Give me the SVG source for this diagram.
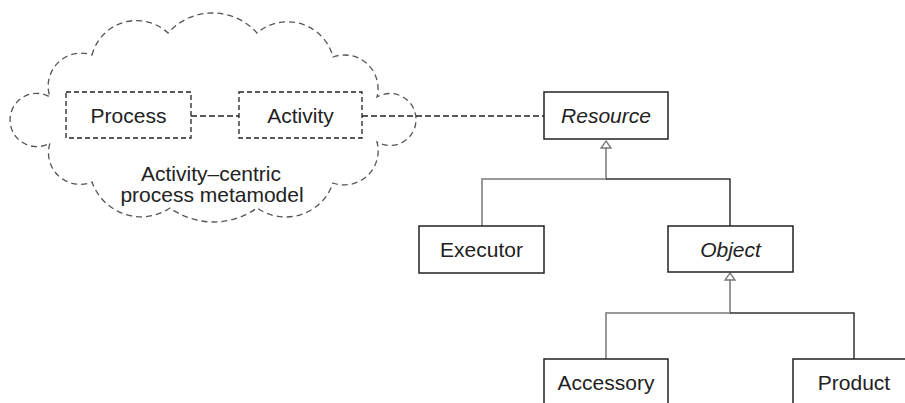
<svg xmlns="http://www.w3.org/2000/svg" width="905" height="403" viewBox="0 0 905 403">
<style>
.box{fill:#fff;stroke:#222;stroke-width:1.5}
.dbox{fill:#fff;stroke:#222;stroke-width:1.3;stroke-dasharray:5 3}
.t{font-family:"Liberation Sans",Arial,sans-serif;font-size:21px;fill:#222;text-anchor:middle}
.i{font-style:italic}
.dash{stroke:#222;stroke-width:1.3;stroke-dasharray:6 3}
.g{stroke:#999;stroke-width:2;fill:none}
.k{stroke:#333;stroke-width:1.5;fill:none}
.tri{fill:#fff;stroke:#777;stroke-width:1.3}
</style>
<g id="cloud">
<path d="M92,55 A46,46 0 0 1 168,33 A59.5,59.5 0 0 1 257,33 A47,47 0 0 1 333,57 A33.6,33.6 0 0 1 377,97 A26,26 0 1 1 377,142 A34,34 0 0 1 333,183 A50,50 0 0 1 257,208 A74.6,74.6 0 0 1 170,208 A52,52 0 0 1 92,182 A31.6,31.6 0 0 1 50,143 A26.6,26.6 0 1 1 50,97 A33,33 0 0 1 92,55 Z" fill="#fff" stroke="#555" stroke-width="1.3" stroke-dasharray="6 4"/>
<text class="t" x="211" y="181">Activity–centric</text>
<text class="t" x="212" y="202">process metamodel</text>
</g>
<g id="connectors">
<line class="dash" x1="191" y1="116" x2="239" y2="116"/>
<line class="dash" x1="362" y1="116" x2="544" y2="116"/>
<path class="g" d="M606,148 V179 H482 V226"/>
<path class="k" d="M606,179 H730 V226"/>
<path class="tri" d="M606,141 L611,148 L601,148 Z"/>
<path class="g" d="M730,280 V313 H606 V359"/>
<path class="k" d="M730,313 H854 V359"/>
<path class="tri" d="M730,273 L735,280 L725,280 Z"/>
</g>
<g id="process">
<rect class="dbox" x="66" y="92" width="125" height="46"/>
<text class="t" x="128.5" y="123">Process</text>
</g>
<g id="activity">
<rect class="dbox" x="239" y="92" width="123" height="46"/>
<text class="t" x="300.5" y="123">Activity</text>
</g>
<g id="resource">
<rect class="box" x="544" y="92" width="124" height="47"/>
<text class="t i" x="606" y="123">Resource</text>
</g>
<g id="executor">
<rect class="box" x="419" y="226" width="125" height="47"/>
<text class="t" x="481.5" y="257">Executor</text>
</g>
<g id="object">
<rect class="box" x="668" y="226" width="125" height="46"/>
<text class="t i" x="730.5" y="257">Object</text>
</g>
<g id="accessory">
<rect class="box" x="544" y="359" width="124" height="50"/>
<text class="t" x="606" y="390">Accessory</text>
</g>
<g id="product">
<rect class="box" x="793" y="359" width="125" height="50"/>
<text class="t" x="854" y="390">Product</text>
</g>
</svg>
